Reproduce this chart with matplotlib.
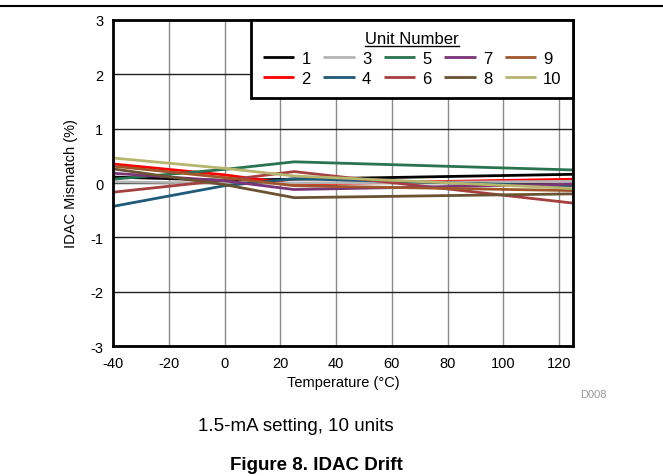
import matplotlib.pyplot as plt
from matplotlib.lines import Line2D

plt.rcParams["font.family"] = ["Liberation Sans", "DejaVu Sans"]
plt.rcParams["axes.unicode_minus"] = False

temps = [-40, 0, 25, 125]

units = ["1", "2", "3", "4", "5", "6", "7", "8", "9", "10"]
colors = ["#000000", "#ff0000", "#b4b4b4", "#1f5b78", "#2a7352",
          "#a63f3f", "#7a3478", "#6b5230", "#a0562a", "#b8b66e"]

mismatch = [
    [0.11, 0.05, 0.07, 0.16],     # 1
    [0.35, 0.15, -0.02, 0.07],    # 2
    [0.02, 0.00, 0.00, 0.03],     # 3
    [-0.43, -0.05, 0.08, -0.06],  # 4
    [0.07, 0.25, 0.39, 0.24],     # 5
    [-0.17, 0.05, 0.21, -0.37],   # 6
    [0.18, 0.04, -0.12, -0.02],   # 7
    [0.26, -0.03, -0.27, -0.20],  # 8
    [0.31, 0.10, -0.05, -0.14],   # 9
    [0.46, 0.27, 0.13, -0.10],    # 10
]

fig = plt.figure(figsize=(6.63, 4.77), dpi=100)
ax = fig.add_axes([0.1704, 0.2725, 0.6939, 0.6835])

for name, col, vals in zip(units, colors, mismatch):
    ax.plot(temps, vals, color=col, lw=2, label=name, solid_capstyle="butt")

ax.set_xlim(-40, 125)
ax.set_ylim(-3, 3)
ax.set_xticks(range(-40, 121, 20))
ax.set_yticks(range(-3, 4))
ax.grid(True, axis="x", color="#8a8a8a", lw=1)
ax.grid(True, axis="y", color="#202020", lw=1)
ax.tick_params(length=0, labelsize=10.5, pad=7)
for sp in ax.spines.values():
    sp.set_linewidth(2)
    sp.set_color("black")

ax.set_xlabel("Temperature (°C)", fontsize=10.5, labelpad=4)
ax.set_ylabel("IDAC Mismatch (%)", fontsize=10.5, labelpad=9)

leg = ax.legend(ncol=5, loc="upper right", borderaxespad=0,
                title="Unit Number",
                title_fontsize=12, fontsize=12, fancybox=False,
                framealpha=1, edgecolor="black", handlelength=1.9,
                handletextpad=0.42, columnspacing=0.75, labelspacing=0.3,
                borderpad=0.68)
leg.get_frame().set_linewidth(2)

# underline the legend title
fig.canvas.draw()
bb = leg.get_title().get_window_extent().transformed(fig.transFigure.inverted())
uy = bb.y0 + 0.3 / 477
fig.add_artist(Line2D([bb.x0, bb.x1], [uy, uy], color="black", lw=1))

fig.add_artist(Line2D([0, 1], [1 - 7 / 477, 1 - 7 / 477], color="black", lw=1.5))
fig.text(580 / 663, 1 - 395 / 477, "D008", color="#9a9a9a", fontsize=8,
         ha="left", va="center")
fig.text(296 / 663, 1 - 427 / 477, "1.5-mA setting, 10 units", fontsize=13.5,
         ha="center", va="center")
fig.text(316 / 663, 1 - 466 / 477, "Figure 8. IDAC Drift", fontsize=13.5,
         fontweight="bold", ha="center", va="center")

fig.savefig("out.png", dpi=100)
